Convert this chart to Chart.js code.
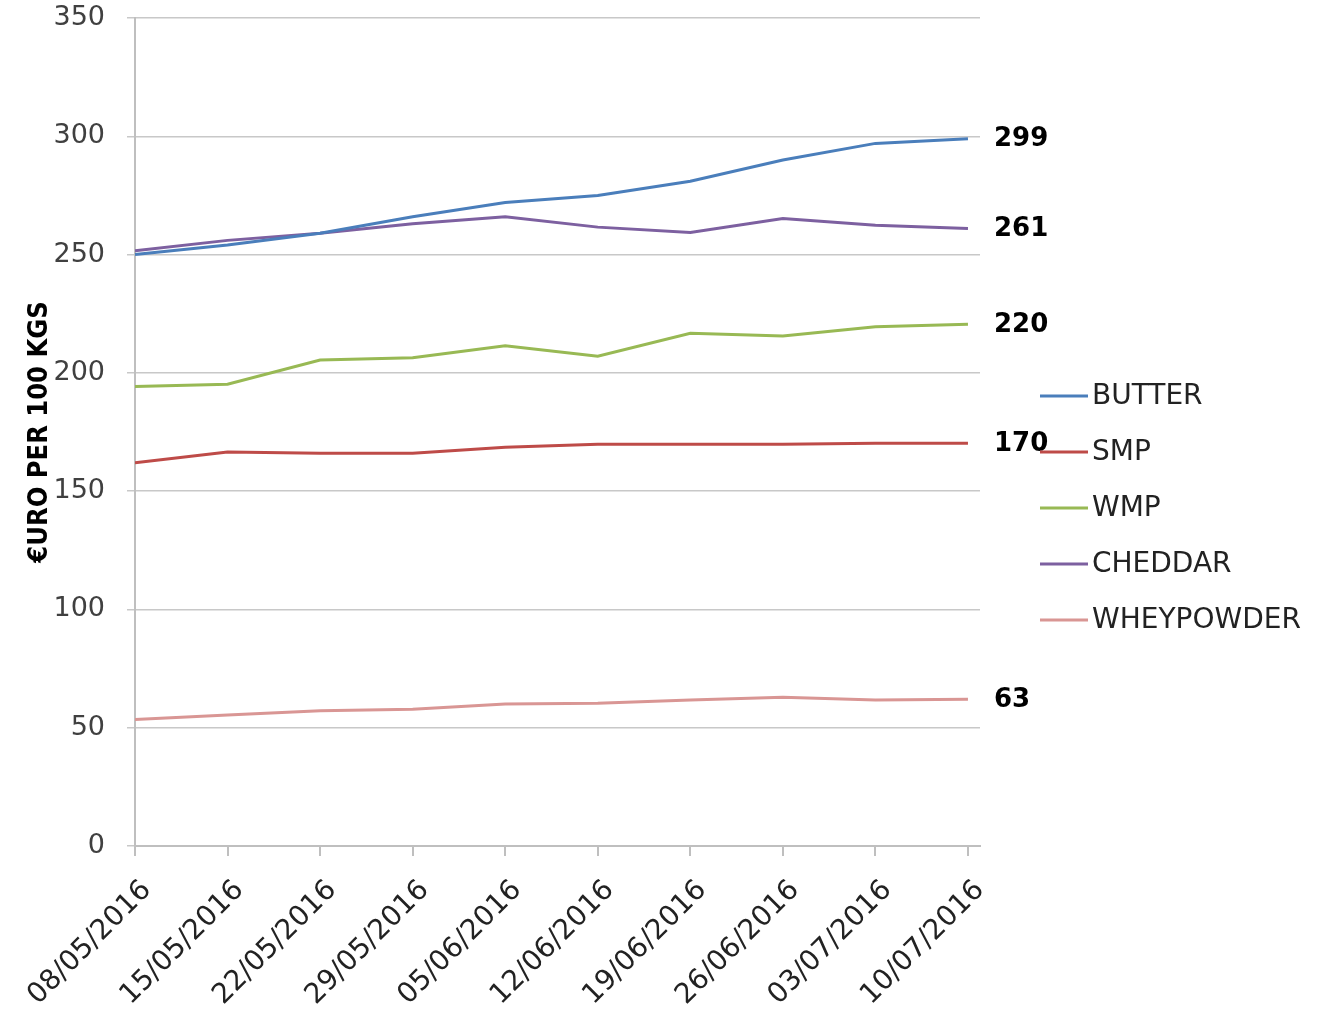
<!DOCTYPE html>
<html><head><meta charset="utf-8">
<script src="https://cdn.jsdelivr.net/npm/chart.js@4/dist/chart.umd.min.js"></script>
<style>html,body{margin:0;padding:0;background:#fff}#wrap{width:1324px;height:1018px}</style>
</head><body><div id="wrap"><canvas id="c" width="1324" height="1018"></canvas></div>
<script>
const dates = ['08/05/2016','15/05/2016','22/05/2016','29/05/2016','05/06/2016','12/06/2016','19/06/2016','26/06/2016','03/07/2016','10/07/2016'];
const butter = [250,254,259,266,272,275,281,290,297,299];
const smp = [162,166.5,166,166,168.6,169.8,169.8,169.8,170.2,170.2];
const wmp = [194.2,195.2,205.4,206.4,211.5,207,216.7,215.6,219.5,220.5];
const cheddar = [251.6,256,259,263,266,261.6,259.3,265.2,262.4,261];
const wheypowder = [53.5,55.4,57.2,57.8,60,60.3,61.7,62.9,61.7,62];
const seriesNames = ['BUTTER','SMP','WMP','CHEDDAR','WHEYPOWDER'];
const endLabels = ['299','170','220','261','63'];
const yAxisTitle = '€URO PER 100 KGS';

const colors = ['#4A7EBB','#BE4B48','#98B954','#7D60A0','#D99694'];
const seriesData = [butter, smp, wmp, cheddar, wheypowder];

const datasets = seriesData.map((arr, i) => ({
  label: seriesNames[i],
  data: arr.map((v, j) => ({x: j, y: v})),
  borderColor: colors[i],
  backgroundColor: colors[i],
  borderWidth: 3,
  pointRadius: 0,
  tension: 0,
  fill: false
}));

const annot = {
  id: 'annot',
  afterDatasetsDraw(chart) {
    const ctx = chart.ctx, ys = chart.scales.y, ca = chart.chartArea;
    ctx.save();
    ctx.font = 'bold 26px "DejaVu Sans"';
    ctx.fillStyle = '#000';
    ctx.textBaseline = 'middle';
    ctx.textAlign = 'left';
    chart.data.datasets.forEach((ds, i) => {
      const last = ds.data[ds.data.length - 1].y;
      ctx.fillText(endLabels[i], ca.right + 14, ys.getPixelForValue(last) + 1);
    });
    // legend
    ctx.font = '28px "DejaVu Sans"';
    chart.data.datasets.forEach((ds, i) => {
      const y = 396 + i * 56;
      ctx.strokeStyle = ds.borderColor;
      ctx.lineWidth = 3;
      ctx.beginPath(); ctx.moveTo(1040, y); ctx.lineTo(1088, y); ctx.stroke();
      ctx.fillStyle = '#222';
      ctx.fillText(ds.label, 1092, y + 1);
    });
    ctx.restore();
  }
};

new Chart(document.getElementById('c'), {
  type: 'line',
  data: { datasets },
  options: {
    responsive: false,
    animation: false,
    layout: { padding: { top: 18, right: 344, left: 0, bottom: 0 } },
    plugins: { legend: { display: false }, tooltip: { enabled: false } },
    scales: {
      x: {
        type: 'linear', min: 0, max: 9.13,
        afterBuildTicks(s) { s.ticks = dates.map((d, i) => ({ value: i })); },
        afterFit(s) { s.height = 172; s.paddingLeft = 0; s.paddingRight = 0; },
        ticks: {
          autoSkip: false, minRotation: 45, maxRotation: 45,
          callback: (v) => dates[v],
          font: { family: 'DejaVu Sans', size: 28 }, color: '#222', padding: 18, labelOffset: 12
        },
        grid: { drawOnChartArea: false, drawTicks: true, tickLength: 10, color: '#bfbfbf', lineWidth: 2 },
        border: { color: '#bfbfbf', width: 2 }
      },
      y: {
        min: 0, max: 350,
        afterFit(s) { s.width = 135; s.paddingTop = 0; s.paddingBottom = 0; },
        ticks: { stepSize: 50, font: { family: 'DejaVu Sans', size: 27 }, color: '#404040', padding: 22 },
        grid: { color: '#c8c8c8', lineWidth: 1.5, tickLength: 8 },
        border: { color: '#bfbfbf', width: 2 },
        title: { display: true, text: yAxisTitle, font: { family: 'DejaVu Sans Condensed', size: 27, weight: 'bold' }, color: '#000', padding: { top: 24, bottom: 0 } }
      }
    }
  },
  plugins: [annot]
});
</script></body></html>
